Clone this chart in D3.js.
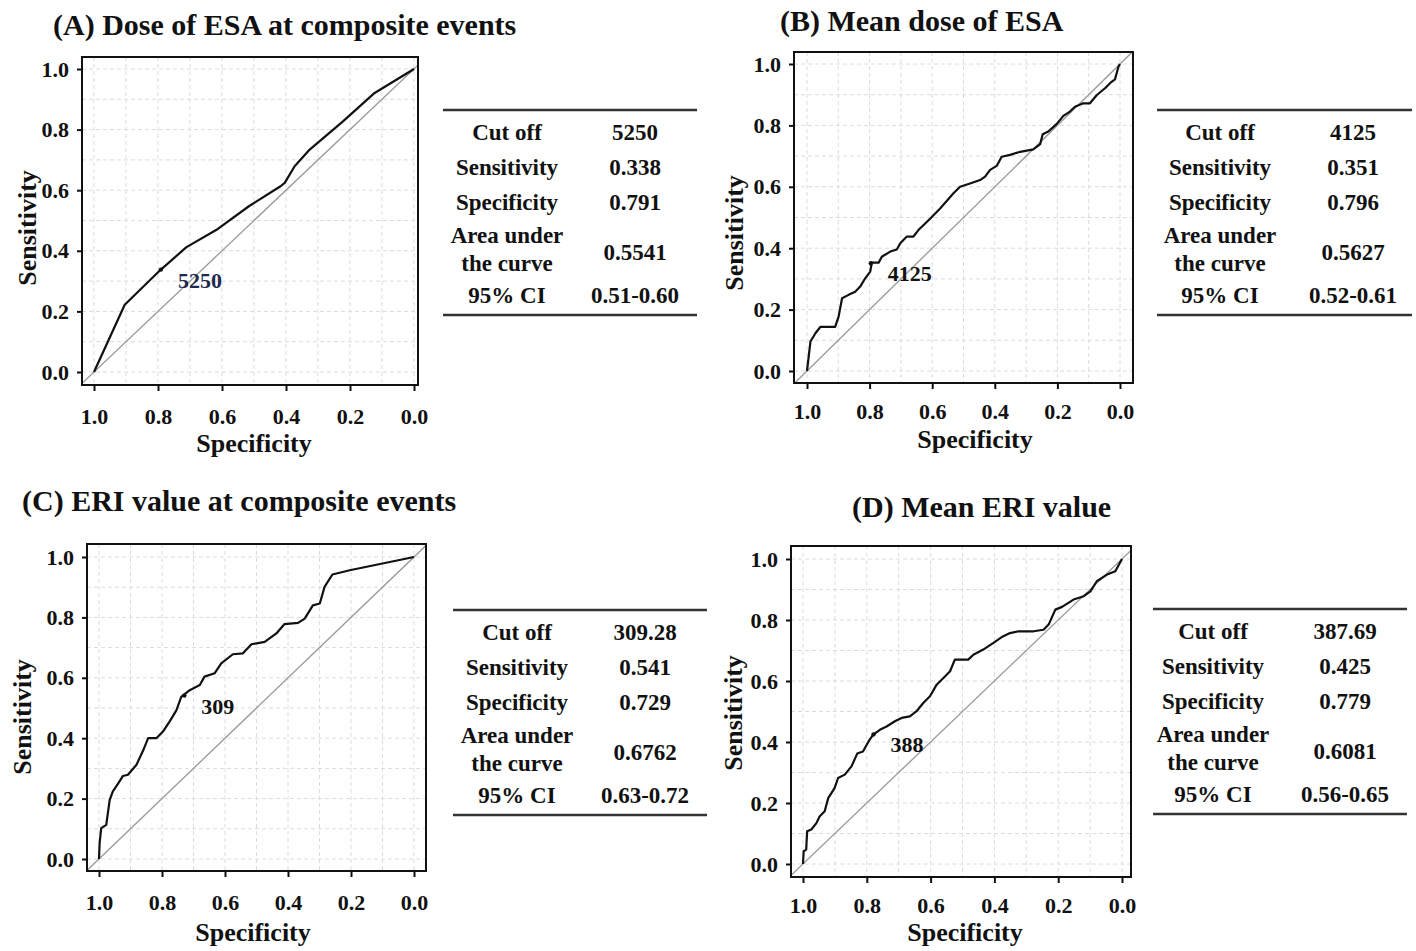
<!DOCTYPE html>
<html>
<head>
<meta charset="utf-8">
<script src="https://cdn.jsdelivr.net/npm/d3@7"></script>
<style>
  body { margin: 0; background: #fff; }
  svg text { font-family: "Liberation Serif", "Times New Roman", serif; font-weight: bold; fill: #111; }
</style>
</head>
<body>
<svg id="chart" width="1416" height="951"></svg>
<script>
(function() {
'use strict';

// ---- data ----
var panelTitles = ['(A) Dose of ESA at composite events', '(B) Mean dose of ESA',
                   '(C) ERI value at composite events', '(D) Mean ERI value'];
var axisTicks = [0, 0.2, 0.4, 0.6, 0.8, 1.0];
var gridTicks = [0, 0.1, 0.2, 0.3, 0.4, 0.5, 0.6, 0.7, 0.8, 0.9, 1.0];

var specA = [1.0, 0.904, 0.791, 0.711, 0.613, 0.516, 0.417, 0.404, 0.373, 0.326, 0.222, 0.123, 0.0];
var sensA = [0.0, 0.222, 0.338, 0.412, 0.472, 0.547, 0.613, 0.624, 0.679, 0.734, 0.827, 0.921, 1.0];

var specB = [1.0, 0.989, 0.973, 0.957, 0.910, 0.899, 0.888, 0.867, 0.846, 0.830, 0.814, 0.798, 0.793, 0.771,
             0.761, 0.734, 0.713, 0.702, 0.681, 0.660, 0.644, 0.606, 0.574, 0.532, 0.511, 0.479, 0.447,
             0.431, 0.415, 0.394, 0.378, 0.351, 0.319, 0.277, 0.255, 0.247, 0.229, 0.202, 0.181, 0.160,
             0.144, 0.117, 0.096, 0.074, 0.048, 0.027, 0.016, 0.005, 0.0];
var sensB = [0.0, 0.096, 0.123, 0.144, 0.144, 0.177, 0.237, 0.248, 0.258, 0.275, 0.302, 0.324, 0.353, 0.353,
             0.372, 0.389, 0.396, 0.416, 0.438, 0.438, 0.459, 0.497, 0.530, 0.579, 0.600, 0.611, 0.622,
             0.633, 0.655, 0.668, 0.698, 0.704, 0.714, 0.722, 0.739, 0.771, 0.780, 0.805, 0.831, 0.845,
             0.861, 0.872, 0.872, 0.899, 0.921, 0.942, 0.950, 0.991, 1.0];

var specC = [1.0, 0.998, 0.993, 0.977, 0.966, 0.956, 0.940, 0.924, 0.908, 0.881, 0.860, 0.844, 0.818, 0.797,
             0.776, 0.754, 0.739, 0.712, 0.680, 0.665, 0.633, 0.612, 0.575, 0.543, 0.516, 0.474, 0.437,
             0.411, 0.368, 0.347, 0.321, 0.299, 0.284, 0.259, 0.204, 0.0];
var sensC = [0.0, 0.053, 0.102, 0.113, 0.196, 0.224, 0.249, 0.275, 0.279, 0.312, 0.359, 0.400, 0.400, 0.422,
             0.455, 0.493, 0.537, 0.559, 0.576, 0.604, 0.615, 0.648, 0.678, 0.681, 0.711, 0.719, 0.747,
             0.778, 0.782, 0.796, 0.840, 0.846, 0.901, 0.942, 0.956, 1.0];

var specD = [1.0, 0.998, 0.990, 0.987, 0.974, 0.958, 0.948, 0.932, 0.921, 0.901, 0.890, 0.869, 0.848, 0.830,
             0.812, 0.791, 0.779, 0.759, 0.738, 0.712, 0.691, 0.665, 0.644, 0.623, 0.602, 0.581, 0.555,
             0.539, 0.524, 0.482, 0.466, 0.435, 0.403, 0.377, 0.351, 0.325, 0.277, 0.246, 0.230, 0.209,
             0.188, 0.152, 0.120, 0.099, 0.079, 0.047, 0.021, 0.0];
var sensD = [0.0, 0.042, 0.047, 0.107, 0.113, 0.134, 0.156, 0.173, 0.216, 0.249, 0.282, 0.293, 0.320, 0.362,
             0.369, 0.408, 0.425, 0.440, 0.451, 0.468, 0.479, 0.484, 0.501, 0.528, 0.550, 0.588, 0.615,
             0.632, 0.670, 0.670, 0.686, 0.703, 0.725, 0.744, 0.757, 0.763, 0.763, 0.768, 0.785, 0.834,
             0.843, 0.867, 0.878, 0.894, 0.927, 0.949, 0.960, 1.0];

var rowLabels = [['Cut off'], ['Sensitivity'], ['Specificity'], ['Area under', 'the curve'], ['95% CI']];
var cutoffs = ['5250', '4125', '309.28', '387.69'];
var cutoffLabels = ['5250', '4125', '309', '388'];
var sensAtCut = [0.338, 0.351, 0.541, 0.425];
var specAtCut = [0.791, 0.796, 0.729, 0.779];
var aucValues = ['0.5541', '0.5627', '0.6762', '0.6081'];
var ciValues = ['0.51-0.60', '0.52-0.61', '0.63-0.72', '0.56-0.65'];

var curves = [[specA, sensA], [specB, sensB], [specC, sensC], [specD, sensD]];

// ---- layout (pixels) ----
var layout = [
    { box: [82, 57, 418, 385], x: [94, 414], y: [372, 69], title: [53, 35], ylab: [27, 228], xlab: [254, 452],
      pad: 17, table: { x1: 443, x2: 697, top: 110, c1: 507, c2: 635 }, labColor: '#1d2a4d' },
    { box: [794, 52, 1133, 383], x: [807, 1120], y: [371, 64], title: [780, 31], ylab: [734, 233], xlab: [975, 448],
      pad: 14, table: { x1: 1157, x2: 1412, top: 110, c1: 1220, c2: 1353 }, labColor: '#111' },
    { box: [87, 544, 426, 871], x: [99, 414], y: [859, 557], title: [22, 511], ylab: [22, 717], xlab: [253, 941],
      pad: 17, table: { x1: 453, x2: 707, top: 610, c1: 517, c2: 645 }, labColor: '#111' },
    { box: [791, 546, 1131, 877], x: [803, 1122], y: [864, 559], title: [852, 517], ylab: [733, 713], xlab: [965, 941],
      pad: 14, table: { x1: 1153, x2: 1407, top: 609, c1: 1213, c2: 1345 }, labColor: '#111' }
];

var svg = d3.select('#chart');
var fmt = d3.format('.1f');

layout.forEach(function (L, i) {
    var g = svg.append('g');
    var x = d3.scaleLinear().domain([1, 0]).range(L.x);
    var y = d3.scaleLinear().domain([0, 1]).range(L.y);
    var b = L.box;

    g.append('text').attr('x', L.title[0]).attr('y', L.title[1])
        .style('font-size', '30px').text(panelTitles[i]);

    var clipId = 'clip' + i;
    g.append('clipPath').attr('id', clipId).append('rect')
        .attr('x', b[0]).attr('y', b[1]).attr('width', b[2] - b[0]).attr('height', b[3] - b[1]);

    var plot = g.append('g').attr('clip-path', 'url(#' + clipId + ')');

    // dashed light grid every 0.1
    plot.selectAll('.gx').data(gridTicks).enter().append('line')
        .attr('x1', function (d) { return x(d); }).attr('x2', function (d) { return x(d); })
        .attr('y1', b[1]).attr('y2', b[3])
        .attr('stroke', '#dcdcdc').attr('stroke-width', 1).attr('stroke-dasharray', '4,3');
    plot.selectAll('.gy').data(gridTicks).enter().append('line')
        .attr('y1', function (d) { return y(d); }).attr('y2', function (d) { return y(d); })
        .attr('x1', b[0]).attr('x2', b[2])
        .attr('stroke', '#dcdcdc').attr('stroke-width', 1).attr('stroke-dasharray', '4,3');

    // chance diagonal
    plot.append('line')
        .attr('x1', x(1.1)).attr('y1', y(-0.1)).attr('x2', x(-0.1)).attr('y2', y(1.1))
        .attr('stroke', '#999').attr('stroke-width', 1.3);

    // ROC curve
    var pts = d3.zip(curves[i][0], curves[i][1]);
    plot.append('path').datum(pts)
        .attr('fill', 'none').attr('stroke', '#111').attr('stroke-width', 2.2)
        .attr('stroke-linejoin', 'round')
        .attr('d', d3.line().x(function (d) { return x(d[0]); }).y(function (d) { return y(d[1]); }));

    // cutoff point + label
    plot.append('circle').attr('cx', x(specAtCut[i])).attr('cy', y(sensAtCut[i])).attr('r', 2.2).attr('fill', '#111');
    g.append('text').attr('x', x(specAtCut[i]) + 17).attr('y', y(sensAtCut[i]) + 18)
        .style('font-size', '22px').style('fill', L.labColor).text(cutoffLabels[i]);

    // box
    g.append('rect').attr('x', b[0]).attr('y', b[1]).attr('width', b[2] - b[0]).attr('height', b[3] - b[1])
        .attr('fill', 'none').attr('stroke', '#111').attr('stroke-width', 2);

    // axes
    var ay = g.append('g').attr('transform', 'translate(' + b[0] + ',0)')
        .call(d3.axisLeft(y).tickValues(axisTicks).tickFormat(fmt).tickSize(5).tickPadding(8));
    var ax = g.append('g').attr('transform', 'translate(0,' + b[3] + ')')
        .call(d3.axisBottom(x).tickValues(axisTicks).tickFormat(fmt).tickSize(6).tickPadding(L.pad));
    [ax, ay].forEach(function (a) {
        a.select('.domain').remove();
        a.selectAll('line').attr('stroke', '#111').attr('stroke-width', 2);
        a.selectAll('text').style('font-size', '22px').attr('fill', '#111');
    });

    g.append('text').attr('x', L.xlab[0]).attr('y', L.xlab[1]).attr('text-anchor', 'middle')
        .style('font-size', '26px').text('Specificity');
    g.append('text').attr('transform', 'translate(' + L.ylab[0] + ',' + L.ylab[1] + ') rotate(-90)')
        .attr('text-anchor', 'middle').attr('dominant-baseline', 'central')
        .style('font-size', '26px').text('Sensitivity');

    // summary table
    var T = L.table;
    var rowY = [22, 57, 92, 139, 185];
    var values = [cutoffs[i], sensAtCut[i].toFixed(3), specAtCut[i].toFixed(3), aucValues[i], ciValues[i]];
    [T.top, T.top + 205].forEach(function (ly) {
        g.append('line').attr('x1', T.x1).attr('x2', T.x2).attr('y1', ly).attr('y2', ly)
            .attr('stroke', '#333').attr('stroke-width', 2.5);
    });
    rowLabels.forEach(function (lines, r) {
        lines.forEach(function (s, k) {
            var off = lines.length > 1 ? (k === 0 ? -14 : 14) : 0;
            g.append('text').attr('x', T.c1).attr('y', T.top + rowY[r] + off)
                .attr('text-anchor', 'middle').attr('dominant-baseline', 'central')
                .style('font-size', '23px').text(s);
        });
        g.append('text').attr('x', T.c2).attr('y', T.top + rowY[r] + (lines.length > 1 ? 3 : 0))
            .attr('text-anchor', 'middle').attr('dominant-baseline', 'central')
            .style('font-size', '23px').text(values[r]);
    });
});

})();
</script>
</body>
</html>
